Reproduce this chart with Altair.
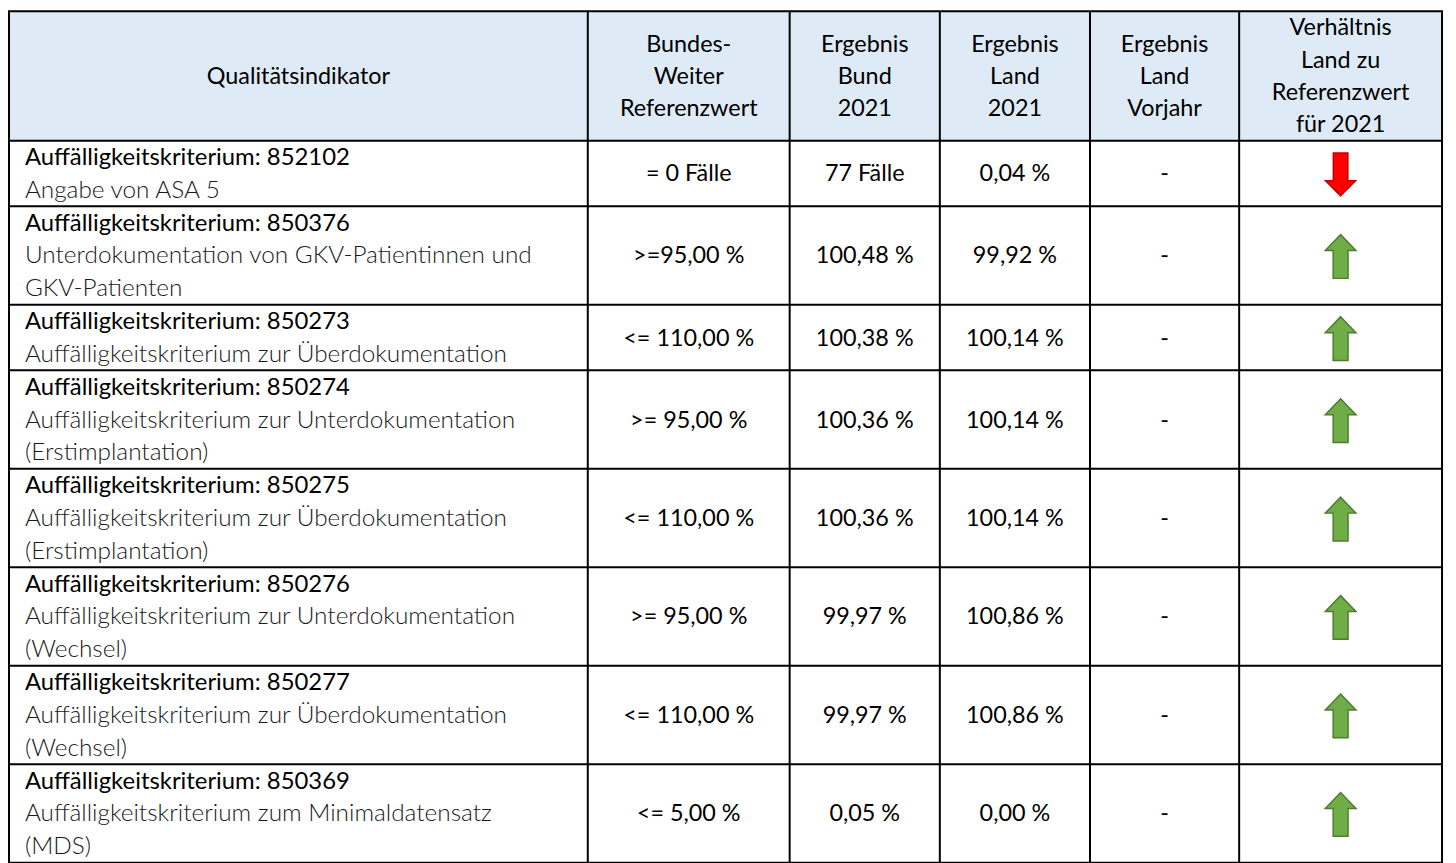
import altair as alt
import pandas as pd

# ---------------- data ----------------
header_lines = [
    ["Qualitätsindikator"],
    ["Bundes-", "Weiter", "Referenzwert"],
    ["Ergebnis", "Bund", "2021"],
    ["Ergebnis", "Land", "2021"],
    ["Ergebnis", "Land", "Vorjahr"],
    ["Verhältnis", "Land zu", "Referenzwert", "für 2021"],
]
titles = [
    "Auffälligkeitskriterium: 852102",
    "Auffälligkeitskriterium: 850376",
    "Auffälligkeitskriterium: 850273",
    "Auffälligkeitskriterium: 850274",
    "Auffälligkeitskriterium: 850275",
    "Auffälligkeitskriterium: 850276",
    "Auffälligkeitskriterium: 850277",
    "Auffälligkeitskriterium: 850369",
]
descriptions = [
    ["Angabe von ASA 5"],
    ["Unterdokumentation von GKV-Patientinnen und", "GKV-Patienten"],
    ["Auffälligkeitskriterium zur Überdokumentation"],
    ["Auffälligkeitskriterium zur Unterdokumentation", "(Erstimplantation)"],
    ["Auffälligkeitskriterium zur Überdokumentation", "(Erstimplantation)"],
    ["Auffälligkeitskriterium zur Unterdokumentation", "(Wechsel)"],
    ["Auffälligkeitskriterium zur Überdokumentation", "(Wechsel)"],
    ["Auffälligkeitskriterium zum Minimaldatensatz", "(MDS)"],
]
referenzwert = ["= 0 Fälle", ">=95,00 %", "<= 110,00 %", ">= 95,00 %",
                "<= 110,00 %", ">= 95,00 %", "<= 110,00 %", "<= 5,00 %"]
ergebnis_bund = ["77 Fälle", "100,48 %", "100,38 %", "100,36 %",
                 "100,36 %", "99,97 %", "99,97 %", "0,05 %"]
ergebnis_land = ["0,04 %", "99,92 %", "100,14 %", "100,14 %",
                 "100,14 %", "100,86 %", "100,86 %", "0,00 %"]
ergebnis_vorjahr = ["-", "-", "-", "-", "-", "-", "-", "-"]
verhaeltnis = ["down", "up", "up", "up", "up", "up", "up", "up"]

# ---------------- layout / style ----------------
W, H = 1448, 855
COL_EDGES = [1, 583, 786, 937, 1088, 1238, 1442]
TOP = 1
HEADER_H = 130
HEADER_LINE_H = 32.5
LINE_H = 33
TEXT_DY = 1
FONT = "Lato"
FS = 23.5
FS_TITLE = 24
FS_DESC = 24.5

col_centers = [(COL_EDGES[i] + COL_EDGES[i + 1]) / 2 for i in range(6)]

# row boundaries
row_tops = []
y = TOP + HEADER_H
for d in descriptions:
    n = 1 + len(d)
    row_tops.append((y, n))
    y += n * LINE_H
table_bottom = y

# header text
hdr_rows = []
hc = TOP + HEADER_H / 2
for ci, lines in enumerate(header_lines):
    n = len(lines)
    for li, t in enumerate(lines):
        hdr_rows.append({"x": col_centers[ci],
                         "y": hc + (li - (n - 1) / 2) * HEADER_LINE_H + TEXT_DY,
                         "text": t})

# body text
value_cols = [referenzwert, ergebnis_bund, ergebnis_land, ergebnis_vorjahr]
val_rows = []
title_rows = []
desc_rows = []
arrow_rows = []
for ri, (top, n) in enumerate(row_tops):
    center = top + n * LINE_H / 2
    for k, col in enumerate(value_cols):
        val_rows.append({"x": col_centers[k + 1], "y": center + TEXT_DY, "text": col[ri]})
    title_rows.append({"x": COL_EDGES[0] + 16, "y": top + LINE_H / 2 + TEXT_DY, "text": titles[ri]})
    for li, t in enumerate(descriptions[ri]):
        desc_rows.append({"x": COL_EDGES[0] + 16,
                          "y": top + (li + 1.5) * LINE_H + TEXT_DY, "text": t})
    arrow_rows.append({"x": col_centers[5], "y": center + 1, "dir": verhaeltnis[ri]})

centered_df = pd.DataFrame(hdr_rows + val_rows)
title_df = pd.DataFrame(title_rows)
desc_df = pd.DataFrame(desc_rows)
arrow_df = pd.DataFrame(arrow_rows)

h_lines = [TOP, TOP + HEADER_H] + [t + n * LINE_H for t, n in row_tops]
hline_df = pd.DataFrame({"y": h_lines, "x": COL_EDGES[0] - 1, "x2": COL_EDGES[-1] + 1})
vline_df = pd.DataFrame({"x": COL_EDGES, "y": TOP, "y2": table_bottom})
header_df = pd.DataFrame({"x": [COL_EDGES[0]], "x2": [COL_EDGES[-1]],
                          "y": [TOP], "y2": [TOP + HEADER_H]})

xs = alt.Scale(domain=[0, W], nice=False, zero=False)
ys = alt.Scale(domain=[0, H], nice=False, zero=False, reverse=True)
X = lambda f: alt.X(f, type="quantitative", scale=xs, axis=None)
Y = lambda f: alt.Y(f, type="quantitative", scale=ys, axis=None)

header_bg = alt.Chart(header_df).mark_rect(color="#DEEAF6").encode(
    x=X("x"), x2="x2", y=Y("y"), y2="y2")

centered_text = alt.Chart(centered_df).mark_text(
    align="center", baseline="middle", font=FONT, fontSize=FS,
    fontWeight=400, color="#000000").encode(x=X("x"), y=Y("y"), text="text:N")

title_text = alt.Chart(title_df).mark_text(
    align="left", baseline="middle", font=FONT, fontSize=FS_TITLE,
    fontWeight=400, color="#000000").encode(x=X("x"), y=Y("y"), text="text:N")

desc_text = alt.Chart(desc_df).mark_text(
    align="left", baseline="middle", font=FONT, fontSize=FS_DESC,
    fontWeight=300, color="#1a1a1a").encode(x=X("x"), y=Y("y"), text="text:N")

UP = "M0,-1 L0.7,-0.27 L0.34,-0.27 L0.34,1 L-0.34,1 L-0.34,-0.27 L-0.7,-0.27 Z"
DOWN = "M0,1 L0.7,0.3 L0.34,0.3 L0.34,-1 L-0.34,-1 L-0.34,0.3 L-0.7,0.3 Z"

up_arrows = alt.Chart(arrow_df).transform_filter(alt.datum.dir == "up").mark_point(
    shape=UP, size=44 * 44, filled=True, fill="#70AD47", stroke="#4E7D32",
    strokeWidth=1.5, opacity=1).encode(x=X("x"), y=Y("y"))
down_arrows = alt.Chart(arrow_df).transform_filter(alt.datum.dir == "down").mark_point(
    shape=DOWN, size=43 * 43, filled=True, fill="#FF0000", stroke="#C00000",
    strokeWidth=1.5, opacity=1).encode(x=X("x"), y=Y("y"))

hrules = alt.Chart(hline_df).mark_rule(color="#000000", strokeWidth=2).encode(
    x=X("x"), x2="x2", y=Y("y"))
vrules = alt.Chart(vline_df).mark_rule(color="#000000", strokeWidth=2).encode(
    x=X("x"), y=Y("y"), y2="y2")

chart = alt.layer(
    header_bg, centered_text, title_text, desc_text, up_arrows, down_arrows, hrules, vrules
).properties(
    width=W, height=H, padding=0,
    autosize=alt.AutoSizeParams(type="none"),
).configure_view(stroke=None)

chart.save("out.html", embed_options={"renderer": "svg", "actions": False})
